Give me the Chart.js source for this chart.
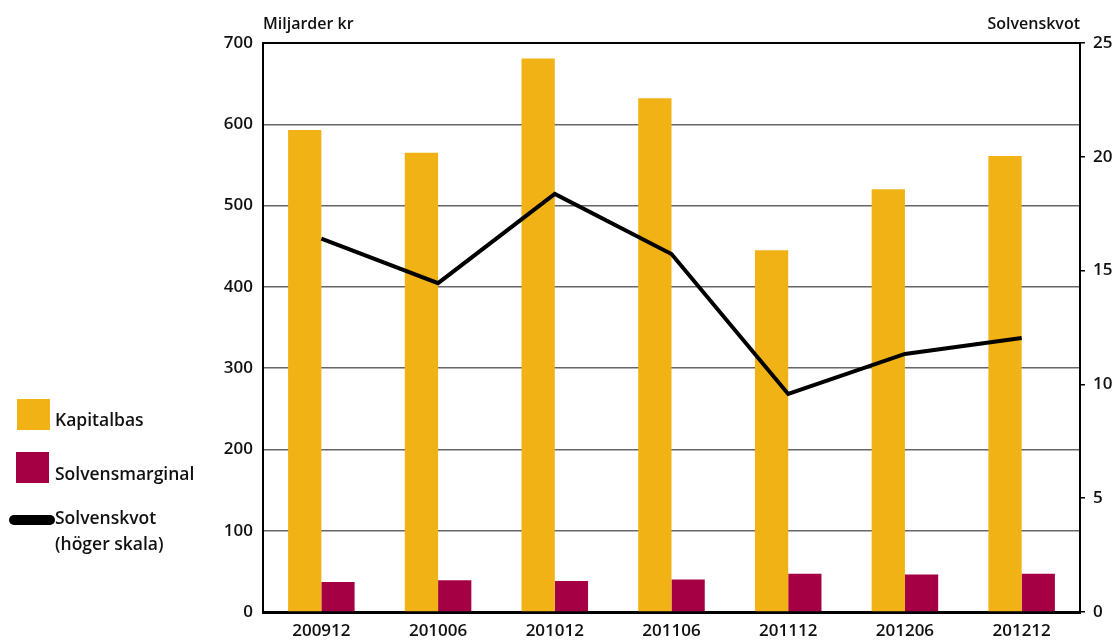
<!DOCTYPE html>
<html><head><meta charset="utf-8">
<script src="https://cdn.jsdelivr.net/npm/chart.js@4.4.1/dist/chart.umd.min.js"></script>
<style>html,body{margin:0;padding:0;background:#fff;}#wrap{width:1115px;height:640px;position:relative;}</style>
</head><body><div id="wrap"><canvas id="c" width="1115" height="640"></canvas></div>
<script>
const categories = ['200912','201006','201012','201106','201112','201206','201212'];
const kapitalbas = [593, 565, 681, 632, 445, 520, 561];
const solvensmarginal = [37, 39, 38, 40, 47, 46, 47];
const solvenskvot = [16.4, 14.45, 18.37, 15.73, 9.58, 11.34, 12.04];
const leftTicks = [0,100,200,300,400,500,600,700];
const rightTicks = [0,5,10,15,20,25];

const YEL = '#F0B215', RED = '#A50044';
const FONT = {family: "'Open Sans', 'DejaVu Sans', sans-serif", size: 17, weight: '600'};

const extras = {
  id: 'extras',
  afterDraw(chart) {
    const ctx = chart.ctx, a = chart.chartArea;
    ctx.save();
    ctx.strokeStyle = '#000'; ctx.lineWidth = 2;
    ctx.beginPath(); ctx.moveTo(a.left - 1, a.top); ctx.lineTo(a.right + 1, a.top); ctx.stroke();
    ctx.fillStyle = '#111';
    ctx.font = "600 16px 'Open Sans', 'DejaVu Sans', sans-serif";
    ctx.textBaseline = 'middle';
    ctx.textAlign = 'left'; ctx.fillText('Miljarder kr', a.left, 24);
    ctx.textAlign = 'right'; ctx.fillText('Solvenskvot', a.right, 24);
    ctx.font = "600 17.5px 'Open Sans', 'DejaVu Sans', sans-serif";
    ctx.textAlign = 'left';
    ctx.fillStyle = YEL; ctx.fillRect(17, 399, 33, 31);
    ctx.fillStyle = RED; ctx.fillRect(16, 452, 33, 31);
    ctx.fillStyle = '#111';
    ctx.fillText('Kapitalbas', 55, 421);
    ctx.fillText('Solvensmarginal', 55, 475);
    ctx.fillText('Solvenskvot', 55, 519);
    ctx.fillText('(höger skala)', 55, 545);
    ctx.strokeStyle = '#000'; ctx.lineWidth = 10; ctx.lineCap = 'round';
    ctx.beginPath(); ctx.moveTo(14, 520); ctx.lineTo(50, 520); ctx.stroke();
    ctx.restore();
  }
};

new Chart(document.getElementById('c'), {
  data: {
    labels: categories,
    datasets: [
      {type: 'line', label: 'Solvenskvot (höger skala)', data: solvenskvot, yAxisID: 'y2',
       borderColor: '#000', borderWidth: 4, pointRadius: 0, tension: 0, fill: false, order: 0},
      {type: 'bar', label: 'Kapitalbas', data: kapitalbas, yAxisID: 'y',
       backgroundColor: YEL, barPercentage: 1, categoryPercentage: 0.57, order: 1},
      {type: 'bar', label: 'Solvensmarginal', data: solvensmarginal, yAxisID: 'y',
       backgroundColor: RED, barPercentage: 1, categoryPercentage: 0.57, order: 1}
    ]
  },
  options: {
    responsive: false, animation: false,
    layout: {padding: {top: 43, right: 0, left: 0, bottom: 0}},
    plugins: {legend: {display: false}, tooltip: {enabled: false}},
    scales: {
      x: {
        grid: {display: false, drawTicks: false},
        border: {color: '#000', width: 3},
        ticks: {color: '#111', font: FONT, padding: 9},
        afterFit(s) { s.height = 28; }
      },
      y: {
        position: 'left', min: 0, max: 700,
        afterBuildTicks(s) { s.ticks = leftTicks.map(v => ({value: v})); },
        grid: {color: '#666', lineWidth: 1.5, drawTicks: false},
        border: {color: '#000', width: 2},
        ticks: {color: '#111', font: FONT, padding: 10},
        afterFit(s) { s.width = 263; }
      },
      y2: {
        position: 'right', min: 0, max: 25,
        afterBuildTicks(s) { s.ticks = rightTicks.map(v => ({value: v})); },
        grid: {drawOnChartArea: false, color: '#000', tickLength: 5, lineWidth: 1.5},
        border: {color: '#000', width: 2},
        ticks: {color: '#111', font: FONT, padding: 8},
        afterFit(s) { s.width = 35; }
      }
    }
  },
  plugins: [extras]
});
</script></body></html>
